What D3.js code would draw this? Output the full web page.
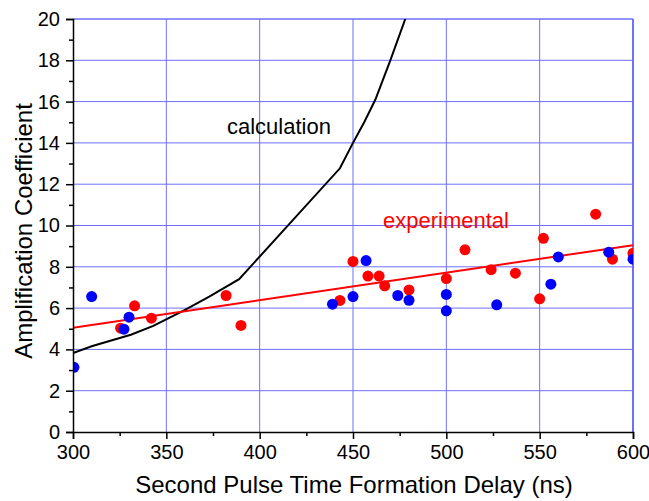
<!DOCTYPE html>
<html lang="en">
<head>
  <meta charset="UTF-8">
  <script src="https://d3js.org/d3.v7.min.js"></script>
  <title>Amplification Coefficient</title>
  <style>
    body { margin: 0; background: #fff; }
    text { font-family: Arial, "Liberation Sans", sans-serif; }
  </style>
</head>
<body>
<script>
  // measured points, second pulse delay (ns) vs amplification
  let redX = [325.5, 333, 342, 382, 390, 443, 450, 458, 464, 467, 480, 500, 510, 524, 537, 550, 552, 580, 589, 600]
  let redY = [5.03, 6.11, 5.51, 6.61, 5.16, 6.37, 8.26, 7.55, 7.55, 7.08, 6.88, 7.43, 8.82, 7.86, 7.69, 6.45, 9.38, 10.55, 8.37, 8.66]
  let blueX = [300.5, 310, 327.3, 330, 439, 450, 457, 474, 480, 500, 500, 527, 556, 560, 587, 600]
  let blueY = [3.13, 6.56, 4.98, 5.56, 6.19, 6.56, 8.3, 6.61, 6.38, 6.66, 5.87, 6.16, 7.16, 8.48, 8.71, 8.37]

  // calculation curve
  let calcX = [300, 310, 320, 331, 343, 359, 373, 389, 443, 450, 456, 462, 470, 478, 485]
  let calcY = [3.82, 4.15, 4.42, 4.71, 5.14, 5.87, 6.56, 7.4, 12.77, 14.0, 15.0, 16.1, 18.0, 20.0, 22.0]

  // linear fit of experimental points
  let fitX = [300, 600]
  let fitY = [5.05, 9.05]

  let xTicks = [300, 350, 400, 450, 500, 550, 600]
  let yTicks = [0, 2, 4, 6, 8, 10, 12, 14, 16, 18, 20]

  let width = 649
  let height = 501
  let margin = { left: 73, right: 16, top: 19, bottom: 69 }

  let svg = d3.select('body')
    .append('svg')
    .attr('width', width)
    .attr('height', height)

  let x = d3.scaleLinear()
    .domain([300, 600])
    .range([margin.left, width - margin.right])

  let y = d3.scaleLinear()
    .domain([0, 20])
    .range([height - margin.bottom, margin.top])

  svg.append('clipPath')
    .attr('id', 'plot')
    .append('rect')
    .attr('x', x(300))
    .attr('y', y(20))
    .attr('width', x(600) - x(300))
    .attr('height', y(0) - y(20))

  // grid
  svg.append('g')
    .selectAll('line')
    .data(xTicks.slice(1))
    .enter()
    .append('line')
    .attr('x1', d => x(d)).attr('x2', d => x(d))
    .attr('y1', y(0)).attr('y2', y(20))
    .attr('stroke', '#6f6fff')
    .attr('stroke-width', d => d === 600 ? 2 : 1)

  svg.append('g')
    .selectAll('line')
    .data(yTicks.slice(1))
    .enter()
    .append('line')
    .attr('x1', x(300)).attr('x2', x(600))
    .attr('y1', d => y(d)).attr('y2', d => y(d))
    .attr('stroke', '#6f6fff')
    .attr('stroke-width', d => d === 20 ? 1.5 : 1)

  let plot = svg.append('g').attr('clip-path', 'url(#plot)')

  let line = d3.line()
    .x(d => x(d[0]))
    .y(d => y(d[1]))

  plot.append('path')
    .datum(calcX.map((d, i) => [d, calcY[i]]))
    .attr('d', line)
    .attr('fill', 'none')
    .attr('stroke', '#000')
    .attr('stroke-width', 2)

  plot.append('path')
    .datum(fitX.map((d, i) => [d, fitY[i]]))
    .attr('d', line)
    .attr('fill', 'none')
    .attr('stroke', '#ff0000')
    .attr('stroke-width', 2)

  plot.selectAll('circle.red')
    .data(redX)
    .enter()
    .append('circle')
    .attr('class', 'red')
    .attr('cx', d => x(d))
    .attr('cy', (d, i) => y(redY[i]))
    .attr('r', 5.5)
    .attr('fill', '#ff0000')

  plot.selectAll('circle.blue')
    .data(blueX)
    .enter()
    .append('circle')
    .attr('class', 'blue')
    .attr('cx', d => x(d))
    .attr('cy', (d, i) => y(blueY[i]))
    .attr('r', 5.5)
    .attr('fill', '#0000ff')

  // axes
  let xAxis = d3.axisBottom(x)
    .tickValues(xTicks)
    .tickSize(7)
    .tickPadding(6)

  let xMinor = d3.axisBottom(x)
    .tickValues(xTicks.slice(0, -1).map(d => d + 25))
    .tickSize(4)
    .tickFormat('')

  let yAxis = d3.axisLeft(y)
    .tickValues(yTicks)
    .tickSize(7)
    .tickPadding(6)

  let yMinor = d3.axisLeft(y)
    .tickValues(yTicks.slice(0, -1).map(d => d + 1))
    .tickSize(4)
    .tickFormat('')

  let gx = svg.append('g')
    .attr('transform', `translate(0,${y(0)})`)
    .call(xAxis)
  svg.append('g')
    .attr('transform', `translate(0,${y(0)})`)
    .call(xMinor)
    .select('.domain').remove()

  let gy = svg.append('g')
    .attr('transform', `translate(${x(300)},0)`)
    .call(yAxis)
  svg.append('g')
    .attr('transform', `translate(${x(300)},0)`)
    .call(yMinor)
    .select('.domain').remove()

  svg.selectAll('.domain').attr('stroke', '#000').attr('stroke-width', 1.5)
  svg.selectAll('.tick line').attr('stroke', '#000').attr('stroke-width', 1.5)

  gx.selectAll('text')
    .attr('font-size', 20)
    .attr('fill', '#000')
    .attr('font-family', 'Arial, "Liberation Sans", sans-serif')
  gy.selectAll('text')
    .attr('font-size', 20)
    .attr('fill', '#000')
    .attr('font-family', 'Arial, "Liberation Sans", sans-serif')

  // titles
  svg.append('text')
    .attr('x', 354)
    .attr('y', 493)
    .attr('text-anchor', 'middle')
    .attr('font-size', 24)
    .text('Second Pulse Time Formation Delay (ns)')

  svg.append('text')
    .attr('transform', `translate(32,231) rotate(-90)`)
    .attr('text-anchor', 'middle')
    .attr('font-size', 24)
    .text('Amplification Coefficient')

  // labels
  svg.append('text')
    .attr('x', 227)
    .attr('y', 134)
    .attr('font-size', 22)
    .attr('fill', '#000')
    .text('calculation')

  svg.append('text')
    .attr('x', 383)
    .attr('y', 228)
    .attr('font-size', 22)
    .attr('fill', '#ff0000')
    .text('experimental')
</script>
</body>
</html>
